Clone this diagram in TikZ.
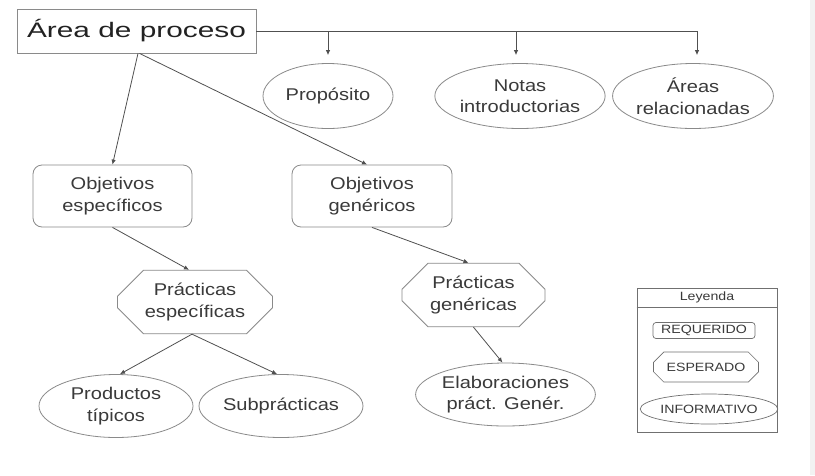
\documentclass[tikz,border=0pt]{standalone}
\usepackage{fontspec}
\setmainfont{Liberation Sans}[FakeStretch=1.18]
\newfontfamily\titlefont{Liberation Sans}[FakeStretch=1.42]
\usetikzlibrary{shapes.geometric,shapes.misc,arrows.meta,calc}
\definecolor{txt}{HTML}{3A3A3A}
\definecolor{titletxt}{HTML}{222222}
\definecolor{linecol}{HTML}{505050}
\definecolor{bordcol}{HTML}{8A8A8A}
\definecolor{legcol}{HTML}{707070}
\tikzset{
  base/.style={inner sep=0pt, text=txt, align=center, draw=bordcol, line width=0.8pt,
    font=\fontsize{17}{21.5}\selectfont},
  oval/.style={base, ellipse},
  rbox/.style={base, rectangle, rounded corners=9pt},
  octa/.style={base, chamfered rectangle, chamfered rectangle xsep=13pt, chamfered rectangle ysep=13pt},
  legtxt/.style={font=\fontsize{12}{14}\selectfont, draw=legcol, text=txt, inner sep=0pt, line width=0.7pt},
  plain/.style={draw=linecol, line width=0.8pt},
  conn/.style={plain, -{Latex[length=5pt,width=4.5pt]}},
}
\begin{document}
\begin{tikzpicture}[x=1pt,y=-1pt]
\useasboundingbox (0,0) rectangle (815,475);
\fill[white] (0,0) rectangle (815,475);
\fill[gray!10] (810,0) rectangle (815,475);

% title
\node[draw=bordcol, line width=0.8pt, rectangle, inner sep=0pt, minimum width=239pt, minimum height=44pt,
  text=titletxt, font=\titlefont\fontsize{21}{24}\selectfont] (title) at (136.5,31) {Área de proceso};

% top row
\node[oval, minimum width=130pt, minimum height=65pt] (prop) at (328,96) {Propósito};
\node[oval, minimum width=154pt, minimum height=65pt] (notas) at (520,96) {Notas\\introductorias};
\node[oval, minimum width=153pt, minimum height=65pt] (areas) at (693,96) {Áreas\\relacionadas};

\coordinate (j1) at (328,31);
\coordinate (j2) at (516,31);
\coordinate (j3) at (697,31);
\draw[plain] (title.east) -- (j3);
\draw[conn, shorten >=8pt] (j1) -- (j1 |- prop.north);
\draw[conn, shorten >=8pt] (j2) -- (j2 |- notas.north);
\draw[conn, shorten >=8pt] (j3) -- (j3 |- areas.north);

% objectives
\node[rbox, minimum width=159pt, minimum height=62pt] (objesp) at (112.5,196) {Objetivos\\específicos};
\node[rbox, minimum width=160pt, minimum height=62pt] (objgen) at (372,196) {Objetivos\\genéricos};

\draw[conn] ([xshift=1.5pt]title.south) -- (objesp.north);
\draw[conn] ([xshift=3pt]title.south) -- ([xshift=-5pt]objgen.north);

% practices
\node[octa, minimum width=155pt, minimum height=60pt] (pesp) at (195,302) {Prácticas\\específicas};
\node[octa, minimum width=143pt, minimum height=60pt] (pgen) at (473.5,295) {Prácticas\\genéricas};

\draw[conn] (objesp.south) -- ([xshift=-6pt]pesp.north);
\draw[conn] (objgen.south) -- ([xshift=-5pt]pgen.north);

% bottom row
\node[oval, minimum width=154pt, minimum height=63pt] (prod) at (116,406) {Productos\\típicos};
\node[oval, minimum width=153pt, minimum height=63pt] (sub) at (281,406) {Subprácticas};
\node[oval, minimum width=153pt, minimum height=63pt] (elab) at (505.5,394.5) {Elaboraciones\\práct. Genér.};

\draw[conn] ([xshift=-3pt]pesp.south) -- ([xshift=4pt]prod.north);
\draw[conn] ([xshift=-3pt]pesp.south) -- ([xshift=-4pt]sub.north);
\draw[conn] (pgen.south) -- ([xshift=-3pt]elab.north);

% legend
\node[draw=legcol, line width=0.7pt, rectangle, inner sep=0pt, minimum width=140pt, minimum height=144pt] (leg) at (707,360.5) {};
\draw[draw=legcol, line width=0.7pt] ($(leg.north west)+(0,19)$) -- ($(leg.north east)+(0,19)$);
\node[text=txt, font=\fontsize{12}{14}\selectfont] (legh) at (707,297.5) {Leyenda};
\node[legtxt, rectangle, rounded corners=3pt, minimum width=102pt, minimum height=16pt] (req) at (704,330.5) {REQUERIDO};
\node[legtxt, chamfered rectangle, chamfered rectangle xsep=6pt, chamfered rectangle ysep=6pt, minimum width=105pt, minimum height=30pt] (esp) at (706,367) {ESPERADO};
\node[legtxt, ellipse, minimum width=112pt, minimum height=30pt] (inf) at (709,409) {INFORMATIVO};
\end{tikzpicture}
\end{document}
